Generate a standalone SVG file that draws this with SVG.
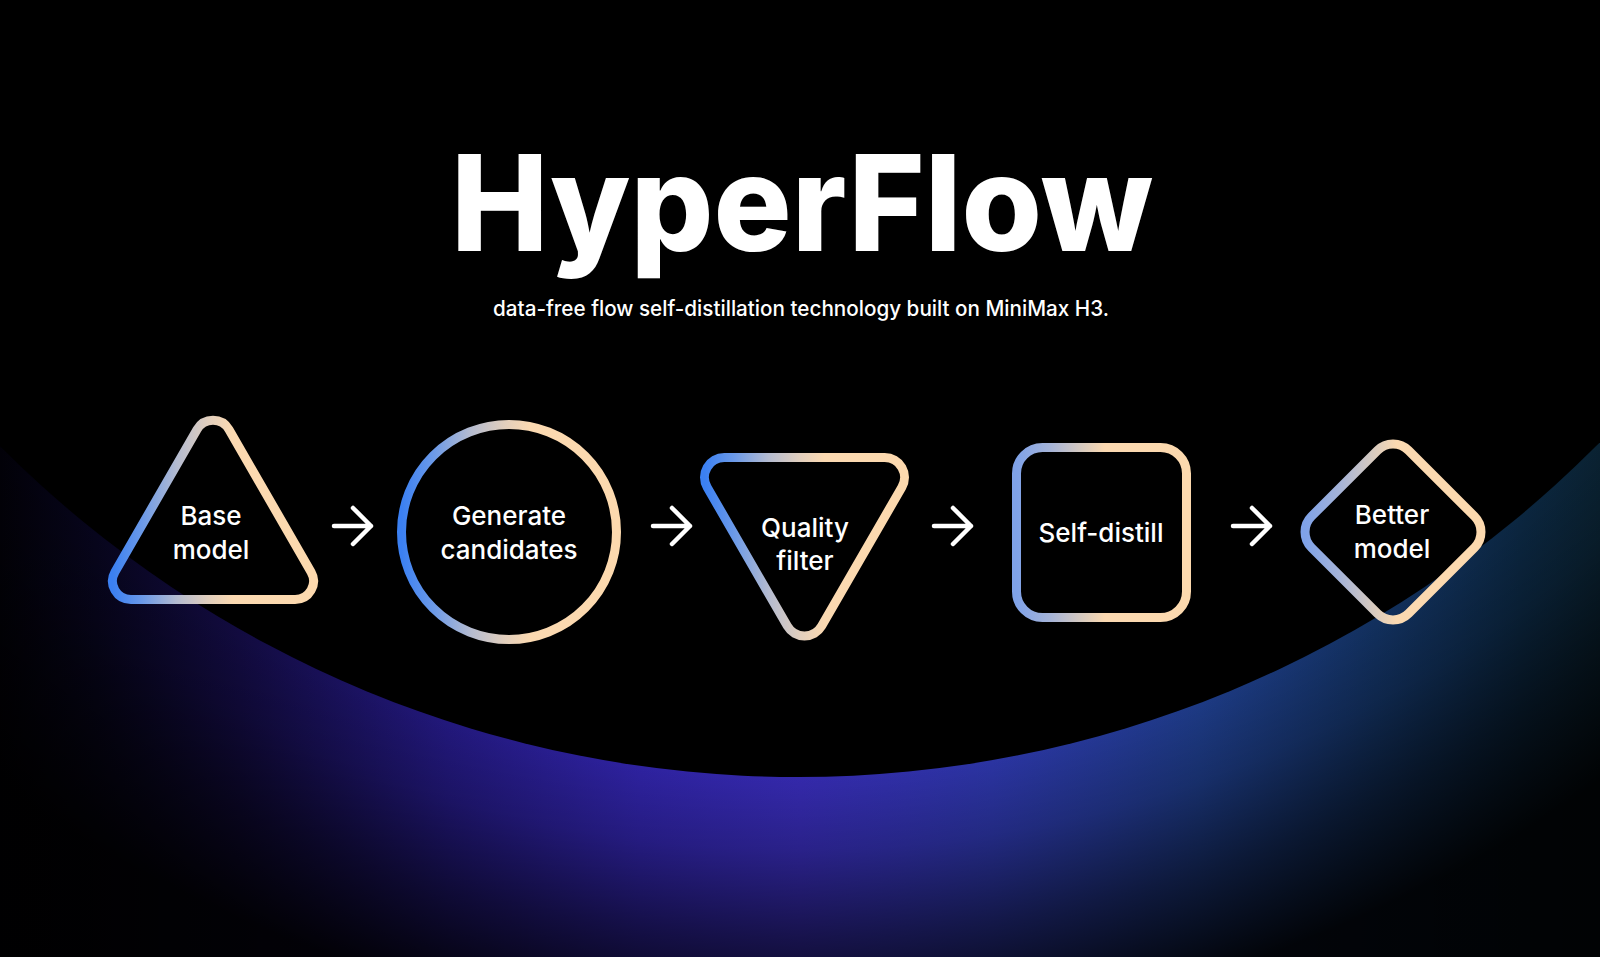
<svg xmlns="http://www.w3.org/2000/svg" width="1600" height="957" viewBox="0 0 1600 957">
  <defs>
    <linearGradient id="glowH" x1="0" y1="0" x2="1600" y2="0" gradientUnits="userSpaceOnUse">
      <stop offset="0" stop-color="#020108"/>
      <stop offset="0.06" stop-color="#07051c"/>
      <stop offset="0.15" stop-color="#120b40"/>
      <stop offset="0.28" stop-color="#22187c"/>
      <stop offset="0.4" stop-color="#2e22a0"/>
      <stop offset="0.5" stop-color="#3429ab"/>
      <stop offset="0.62" stop-color="#2b34a2"/>
      <stop offset="0.75" stop-color="#1d3a84"/>
      <stop offset="0.86" stop-color="#12305e"/>
      <stop offset="0.95" stop-color="#0b2640"/>
      <stop offset="1" stop-color="#0a2232"/>
    </linearGradient>
    <radialGradient id="fade" cx="798" cy="-351" r="1430" gradientUnits="userSpaceOnUse">
      <stop offset="0.788" stop-color="#000" stop-opacity="0"/>
      <stop offset="0.84" stop-color="#000" stop-opacity="0.2"/>
      <stop offset="0.9" stop-color="#000" stop-opacity="0.55"/>
      <stop offset="0.97" stop-color="#000" stop-opacity="0.92"/>
    </radialGradient>
    <linearGradient id="gStrong" x1="0" y1="0" x2="1" y2="0">
      <stop offset="0" stop-color="#3b80f2"/>
      <stop offset="0.15" stop-color="#6c9ae8"/>
      <stop offset="0.32" stop-color="#b4bbd0"/>
      <stop offset="0.48" stop-color="#e2cfbd"/>
      <stop offset="0.6" stop-color="#fbd9b1"/>
      <stop offset="1" stop-color="#fcd9ae"/>
    </linearGradient>
    <linearGradient id="gSoft" x1="0" y1="0" x2="1" y2="0">
      <stop offset="0" stop-color="#7fa2e8"/>
      <stop offset="0.2" stop-color="#a6b4d8"/>
      <stop offset="0.38" stop-color="#d6cac0"/>
      <stop offset="0.52" stop-color="#fbd9b1"/>
      <stop offset="1" stop-color="#fcd9ae"/>
    </linearGradient>
    <style>
      .shape { fill: none; stroke-width: 9; stroke-linejoin: round; }
      .strong { stroke: url(#gStrong); }
      .soft { stroke: url(#gSoft); }
      .label { fill: #ffffff; font-family: Inter, "Noto Sans", "Liberation Sans", sans-serif; font-weight: 500; font-size: 26px; text-anchor: middle; }
      .arrow { fill: none; stroke: #ffffff; stroke-width: 4.5; stroke-linecap: round; stroke-linejoin: round; }
    </style>
  </defs>

  <rect width="1600" height="957" fill="#000"/>
  <g id="background">
    <rect x="0" y="380" width="1600" height="577" fill="url(#glowH)"/>
    <rect x="0" y="380" width="1600" height="577" fill="url(#fade)"/>
    <circle cx="798" cy="-351" r="1128" fill="#000"/>
  </g>

  <g id="title">
    <text x="802" y="251" fill="#fff" font-family="Inter, 'Liberation Sans', sans-serif" font-weight="800" font-size="134" text-anchor="middle" textLength="702" lengthAdjust="spacingAndGlyphs">HyperFlow</text>
    <text x="801" y="316" fill="#fff" font-family="Inter, 'Liberation Sans', sans-serif" font-weight="500" font-size="21" text-anchor="middle" textLength="616" lengthAdjust="spacingAndGlyphs">data-free flow self-distillation technology built on MiniMax H3.</text>
  </g>

  <g id="node-base-model">
    <path class="shape strong" d="M 197.05 429.6 A 18.4 18.4 0 0 1 228.95 429.6 L 311.05 571.9 A 18.4 18.4 0 0 1 295.1 599.5 L 130.9 599.5 A 18.4 18.4 0 0 1 114.95 571.9 Z"/>
    <text class="label" x="211" y="525">Base</text>
    <text class="label" x="211" y="559">model</text>
  </g>

  <g id="node-generate-candidates">
    <circle class="shape strong" cx="509" cy="532" r="107.5"/>
    <text class="label" x="509" y="525">Generate</text>
    <text class="label" x="509" y="559">candidates</text>
  </g>

  <g id="node-quality-filter">
    <path class="shape strong" d="M 724.3 457.5 L 884.7 457.5 A 19.8 19.8 0 0 1 901.85 487.2 L 821.65 626.1 A 19.8 19.8 0 0 1 787.35 626.1 L 707.15 487.2 A 19.8 19.8 0 0 1 724.3 457.5 Z"/>
    <text class="label" x="805" y="537">Quality</text>
    <text class="label" x="805" y="570">filter</text>
  </g>

  <g id="node-self-distill">
    <rect class="shape soft" x="1016.5" y="447.5" width="170" height="170" rx="26"/>
    <text class="label" x="1101" y="542">Self-distill</text>
  </g>

  <g id="node-better-model">
    <path class="shape soft" d="M 1408.56 450.46 L 1474.54 516.44 A 22 22 0 0 1 1474.54 547.56 L 1408.56 613.54 A 22 22 0 0 1 1377.44 613.54 L 1311.46 547.56 A 22 22 0 0 1 1311.46 516.44 L 1377.44 450.46 A 22 22 0 0 1 1408.56 450.46 Z"/>
    <text class="label" x="1392" y="524">Better</text>
    <text class="label" x="1392" y="558">model</text>
  </g>

  <g id="connectors">
    <path class="arrow" d="M334 526 H371 M353 508 L371 526 L353 544"/>
    <path class="arrow" d="M653 526 H690 M672 508 L690 526 L672 544"/>
    <path class="arrow" d="M934 526 H971 M953 508 L971 526 L953 544"/>
    <path class="arrow" d="M1233 526 H1270 M1252 508 L1270 526 L1252 544"/>
  </g>
</svg>
